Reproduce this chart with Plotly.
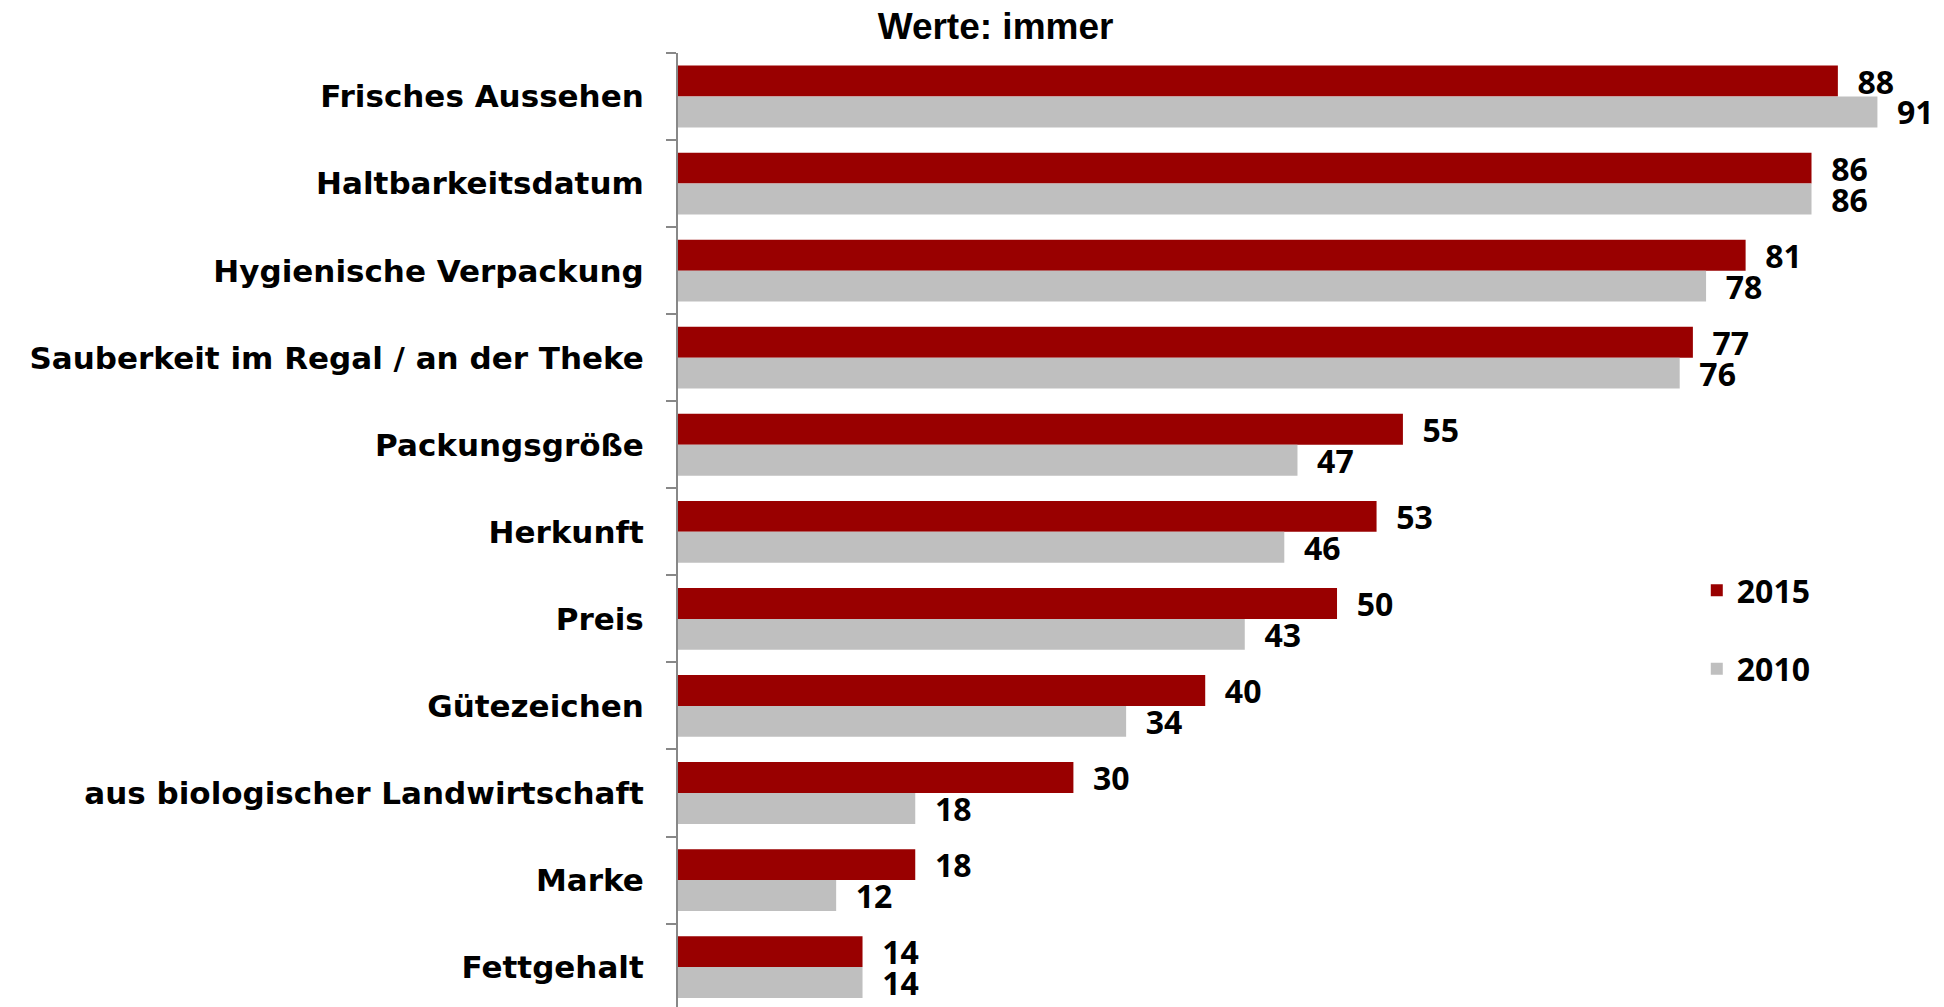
import plotly.graph_objects as go

CATEGORIES = [
    "Frisches Aussehen",
    "Haltbarkeitsdatum",
    "Hygienische Verpackung",
    "Sauberkeit im Regal / an der Theke",
    "Packungsgröße",
    "Herkunft",
    "Preis",
    "Gütezeichen",
    "aus biologischer Landwirtschaft",
    "Marke",
    "Fettgehalt",
]
VALUES_2015 = [88, 86, 81, 77, 55, 53, 50, 40, 30, 18, 14]
VALUES_2010 = [91, 86, 78, 76, 47, 46, 43, 34, 18, 12, 14]

RED = "#990000"
GREY = "#BFBFBF"
NUM_FONT = dict(family="Open Sans", size=32, color="black")

fig = go.Figure()
for name, vals, color in [("2015", VALUES_2015, RED), ("2010", VALUES_2010, GREY)]:
    fig.add_trace(
        go.Bar(
            name=f"<b>{name}</b>",
            y=CATEGORIES,
            x=vals,
            orientation="h",
            marker=dict(color=color, line=dict(width=0)),
            text=[f"<b>\u00a0\u00a0{v}</b>" for v in vals],
            textposition="outside",
            textfont=NUM_FONT,
            constraintext="none",
            cliponaxis=False,
            legendgroup=name,
        )
    )

fig.update_layout(
    width=1944,
    height=1007,
    barmode="group",
    bargap=0.29,
    bargroupgap=0,
    plot_bgcolor="white",
    paper_bgcolor="white",
    margin=dict(l=670, r=10, t=45, b=0),
    title=dict(
        text="<b>Werte: immer</b>",
        x=0.508,
        xref="container",
        xanchor="center",
        y=0.982,
        yref="container",
        yanchor="middle",
        font=dict(family="Liberation Sans", size=37, color="black"),
    ),
    xaxis=dict(visible=False, range=[0, 95.9]),
    yaxis=dict(
        categoryorder="array",
        categoryarray=CATEGORIES,
        range=[10.55, -0.5],
        showline=True,
        linecolor="#888888",
        linewidth=2,
        ticks="outside",
        tickson="boundaries",
        ticklen=10,
        tickcolor="#888888",
        tickwidth=2,
        ticklabelstandoff=26,
        tickfont=dict(family="DejaVu Sans", size=31, color="black"),
        showgrid=False,
    ),
    legend=dict(
        x=0.806,
        y=0.47,
        xanchor="left",
        yanchor="top",
        font=dict(family="Open Sans", size=32, color="black"),
        traceorder="grouped",
        tracegroupgap=34,
        bgcolor="rgba(0,0,0,0)",
    ),
)

fig.update_yaxes(ticktext=[f"<b>{c}</b>" for c in CATEGORIES], tickvals=CATEGORIES)

fig.write_html("out.html")
